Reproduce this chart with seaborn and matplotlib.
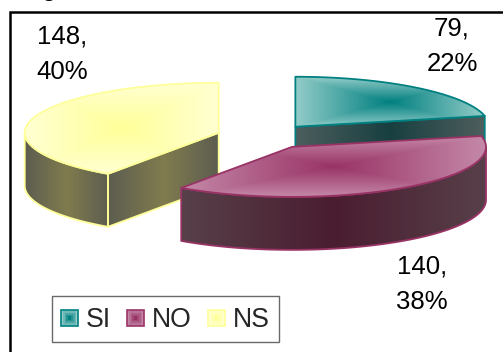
import numpy as np
import matplotlib
matplotlib.use("Agg")
import matplotlib.pyplot as plt
import seaborn as sns
from matplotlib.legend_handler import HandlerBase
from matplotlib.patches import Patch, PathPatch, Rectangle
from matplotlib.path import Path

categories = ["SI", "NO", "NS"]
counts = [79, 140, 148]
percent_labels = ["22%", "38%", "40%"]
explode = [0.25, 0.25, 0.25]

edge_colors = ["#008080", "#993366", "#FFFF99"]
top_centres = ["#008080", "#993366", "#FFFF99"]
top_rims = ["#93CCC8", "#C488A8", "#FFFFD2"]
wall_centres = ["#183F40", "#4A1D30", "#807C4E"]
wall_rims = ["#4E5E5E", "#574049", "#5D5D50"]

CENTER = (265.0, 136.5)
RX, RY = 194.0, 50.0
DEPTH = 53.0

sns.set_theme(style="white")
plt.rcParams["font.family"] = ["Liberation Sans", "DejaVu Sans"]

fig = plt.figure(figsize=(5.03, 3.52), dpi=100)
ax = fig.add_axes([0, 0, 1, 1])
ax.set_xlim(0, 503)
ax.set_ylim(352, 0)
ax.axis("off")


def rim(apex, a0, a1, n=90):
    t = np.radians(np.linspace(a0, a1, n))
    return np.column_stack([apex[0] + RX * np.sin(t), apex[1] - RY * np.cos(t)])


def gradient_patch(points, centre, rim_color, rect=True, zorder=2, edge=None):
    """Fill a polygon with a gradient from its box centre to the rim, clipped to its outline."""
    xs, ys = points[:, 0], points[:, 1]
    x0, x1, y0, y1 = xs.min(), xs.max(), ys.min(), ys.max()
    gx, gy = np.meshgrid(np.linspace(x0, x1, 220), np.linspace(y0, y1, 120))
    u = np.abs(gx - (x0 + x1) / 2) / max((x1 - x0) / 2, 1)
    if rect:
        v = np.abs(gy - (y0 + y1) / 2) / max((y1 - y0) / 2, 1)
        s = np.maximum(u, v)
    else:
        s = u
    cmap = sns.blend_palette([centre, rim_color], as_cmap=True)
    im = ax.imshow(np.clip(s, 0, 1), cmap=cmap, vmin=0, vmax=1, extent=(x0, x1, y1, y0),
                   aspect="auto", zorder=zorder, interpolation="bilinear")
    path = Path(np.vstack([points, points[:1]]), closed=True)
    clip = PathPatch(path, transform=ax.transData, fc="none", ec="none")
    ax.add_patch(clip)
    im.set_clip_path(clip)
    if edge is not None:
        ax.add_patch(PathPatch(path, fc="none", ec=edge, lw=1.3, joinstyle="round",
                               zorder=zorder + 0.1))
    ax.set_xlim(0, 503)
    ax.set_ylim(352, 0)


def wall(upper, i, zorder):
    """Vertical side face hanging below an upper outline."""
    lower = upper[::-1] + np.array([0, DEPTH])
    pts = np.vstack([upper, lower])
    gradient_patch(pts, wall_centres[i], wall_rims[i], rect=False,
                   zorder=zorder, edge=edge_colors[i])


angles = 360 * np.cumsum([0] + counts) / sum(counts)
mids = (angles[:-1] + angles[1:]) / 2

# Slices are layered back to front: NS, SI, NO.
for layer, i in enumerate([2, 0, 1]):
    a0, a1 = angles[i], angles[i + 1]
    m = np.radians(mids[i])
    apex = (CENTER[0] + explode[i] * RX * np.sin(m), CENTER[1] - explode[i] * RY * np.cos(m))
    z = 2 + layer
    outline = rim(apex, a0, a1)
    if i == 2:
        # Radial face towards the viewer, then the outer wall.
        wall(np.array([apex, outline[0]]), i, z)
        wall(rim(apex, a0, 270), i, z + 0.2)
    elif i == 0:
        wall(np.array([apex, outline[-1]]), i, z)
    else:
        # Only the part of the rim facing the viewer has a visible wall.
        wall(rim(apex, 90, a1), i, z)
    top = np.vstack([[apex], outline])
    gradient_patch(top, top_centres[i], top_rims[i], zorder=z + 0.5, edge=edge_colors[i])

# Chart frame, running off the top-right and bottom-left of the canvas.
ax.plot([10.5, 10.5, 503], [352, 11.5, 11.5], color="black", lw=1.8, zorder=1,
        solid_joinstyle="miter")

# Tail of the heading letter that sits above the frame.
ax.text(49, -4, "g", ha="center", va="baseline", fontsize=18.5, color="black", clip_on=False)

label_xy = [(452, 46), (422, 284.5), (62, 54)]
for i, (x, y) in enumerate(label_xy):
    ax.text(x, y, f"{counts[i]},\n{percent_labels[i]}", ha="center", va="center",
            fontsize=18.5, color="black", linespacing=1.6, zorder=8)


class NestedSquareHandler(HandlerBase):
    """Legend swatch built from concentric squares, fading towards the rim."""

    def create_artists(self, legend, orig, xd, yd, width, height, fontsize, trans):
        idx = categories.index(orig.get_label())
        shades = sns.blend_palette([top_rims[idx], top_centres[idx]], 5)
        side = 12.0
        x0 = -xd + (width - side) / 2
        y0 = -yd + (height - side) / 2
        out = [Rectangle((x0, y0), side, side, fc=shades[0], ec=edge_colors[idx], lw=1.2,
                         transform=trans)]
        for k, c in enumerate(shades[1:], start=1):
            inset = k * 1.2
            out.append(Rectangle((x0 + inset, y0 + inset), side - 2 * inset, side - 2 * inset,
                                 fc=c, ec="none", transform=trans))
        return out


handles = [Patch(label=c) for c in categories]
leg = ax.legend(handles=handles, ncol=3, loc="lower left",
                bbox_to_anchor=(52 / 503, (352 - 342) / 352), bbox_transform=ax.transAxes,
                fontsize=19.2, frameon=True, fancybox=False, framealpha=1,
                edgecolor="#6A6A6A", handler_map={Patch: NestedSquareHandler()},
                handlelength=0.64, handleheight=1.16, handletextpad=0.3, columnspacing=0.6,
                borderpad=0.34, borderaxespad=0)
leg.set_zorder(9)
leg.get_frame().set_linewidth(1.0)

fig.savefig("out.png", dpi=100)
